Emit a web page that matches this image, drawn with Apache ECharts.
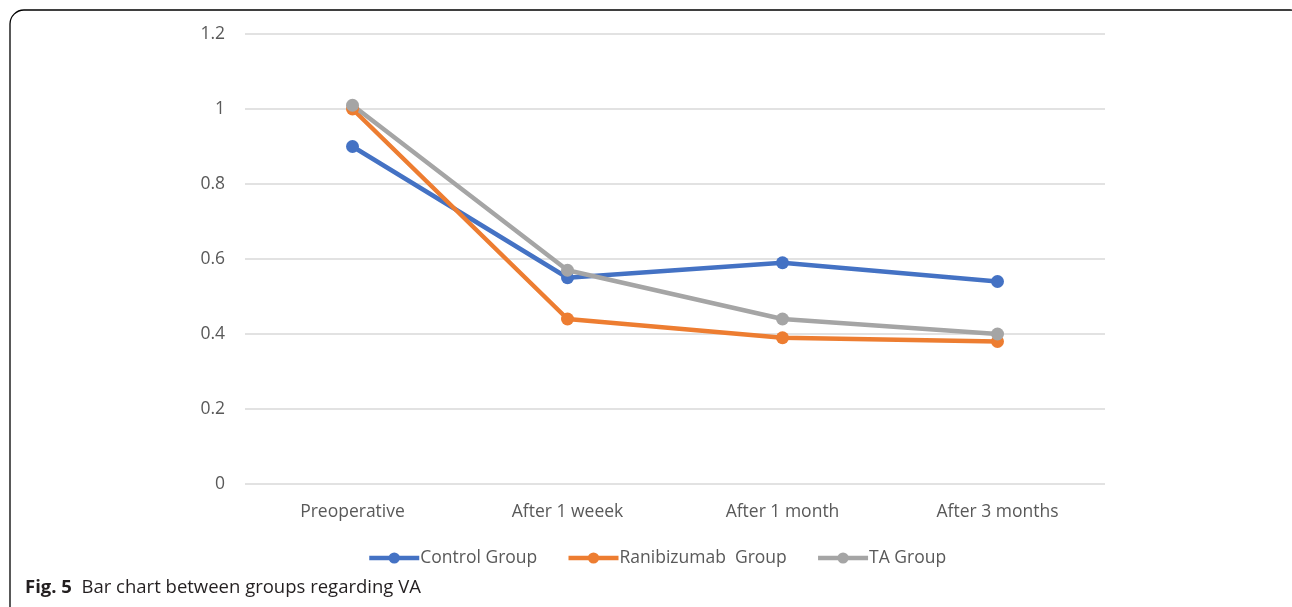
<!DOCTYPE html>
<html>
<head>
<meta charset="utf-8">
<title>VA by group</title>
<script src="https://cdn.jsdelivr.net/npm/echarts@6/dist/echarts.min.js"></script>
<style>
  html, body { margin: 0; padding: 0; background: #fff; }
  #chart { width: 1292px; height: 607px; }
</style>
</head>
<body>
<div id="chart"></div>
<script>
// Visual acuity over follow-up, by treatment group
const categories = ['Preoperative', 'After 1 weeek', 'After 1 month', 'After 3 months'];
const controlGroup = [0.90, 0.55, 0.59, 0.54];
const ranibizumabGroup = [1.00, 0.44, 0.39, 0.38];
const taGroup = [1.01, 0.57, 0.44, 0.40];
const seriesNames = ['Control Group', 'Ranibizumab  Group', 'TA Group'];
const yTicks = { min: 0, max: 1.2, interval: 0.2 };

const chart = echarts.init(document.getElementById('chart'), null, { renderer: 'canvas' });

const axisFont = { fontFamily: 'Open Sans', fontSize: 17.5, color: '#595959' };

function lineSeries(name, data, color) {
  return {
    name: name,
    type: 'line',
    data: data,
    symbol: 'circle',
    symbolSize: 13,
    lineStyle: { width: 4.5, color: color },
    itemStyle: { color: color },
    z: 3
  };
}

chart.setOption({
  animation: false,
  backgroundColor: '#ffffff',
  grid: { left: 245, right: 187, top: 34, bottom: 123, containLabel: false },
  xAxis: {
    type: 'category',
    data: categories,
    boundaryGap: true,
    axisLine: { show: false },
    axisTick: { show: false },
    axisLabel: Object.assign({ margin: 19 }, axisFont)
  },
  yAxis: {
    type: 'value',
    min: yTicks.min,
    max: yTicks.max,
    interval: yTicks.interval,
    axisLine: { show: false },
    axisTick: { show: false },
    splitLine: { lineStyle: { color: '#d9d9d9', width: 1.5 } },
    axisLabel: Object.assign({
      margin: 20,
      formatter: v => String(Math.round(v * 10) / 10)
    }, axisFont)
  },
  legend: {
    data: seriesNames,
    left: 362,
    top: 544,
    itemWidth: 50,
    itemHeight: 14,
    itemGap: 29,
    lineStyle: { width: 4.5 },
    textStyle: { fontFamily: 'Open Sans', fontSize: 17.5, color: '#595959', padding: [0, 0, 0, -4] }
  },
  series: [
    lineSeries(seriesNames[0], controlGroup, '#4472C4'),
    lineSeries(seriesNames[1], ranibizumabGroup, '#ED7D31'),
    lineSeries(seriesNames[2], taGroup, '#A5A5A5')
  ],
  graphic: [
    {
      type: 'rect',
      shape: { x: 10, y: 10, width: 1294, height: 640, r: [14, 14, 0, 0] },
      style: { fill: 'none', stroke: '#000', lineWidth: 1.3 },
      silent: true
    },
    {
      type: 'text',
      left: 25,
      top: 578,
      style: {
        text: '{b|Fig. 5}  Bar chart between groups regarding VA',
        fontFamily: 'Open Sans',
        fontSize: 18.5,
        fill: '#231f20',
        rich: {
          b: { fontFamily: 'Open Sans', fontSize: 18.5, fontWeight: 'bold', fill: '#231f20' }
        }
      }
    }
  ]
});
</script>
</body>
</html>
